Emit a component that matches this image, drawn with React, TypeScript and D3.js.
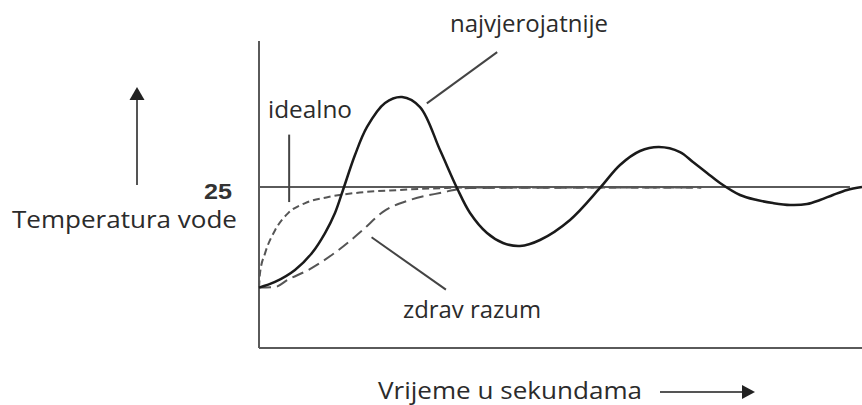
import { useEffect } from 'react';
import * as d3 from 'd3';

// time in seconds / water temperature in degrees
const likelyTime = [0, 1.59, 3.58, 5.27, 6.57, 7.56, 8.36, 9.55, 10.75, 12.54, 14.23, 16.02, 18.01, 19.7, 21.0, 22.69, 24.28, 25.97, 27.96, 30.95, 33.93, 35.92, 37.91, 39.8, 41.89, 43.18, 44.58, 45.87, 47.86, 49.55, 51.14, 52.84, 54.53, 55.82, 57.11, 58.51, 60];
const likelyTemp = [15.0, 15.56, 16.75, 18.44, 20.42, 22.41, 24.7, 28.17, 30.96, 33.34, 33.94, 32.94, 28.67, 24.9, 22.41, 20.42, 19.43, 19.13, 19.73, 21.72, 24.9, 27.18, 28.57, 28.97, 28.47, 27.48, 26.39, 25.39, 24.2, 23.7, 23.4, 23.21, 23.3, 23.7, 24.2, 24.7, 25.0];

const idealTime = [0, 0.1, 0.6, 1.6, 2.9, 4.6, 6.9, 9.6, 14.0, 18.7, 22, 44];
const idealTemp = [15, 16.45, 18.4, 20.7, 22.4, 23.4, 24.0, 24.4, 24.7, 24.9, 24.95, 24.95];

const commonTime = [0, 1.6, 2.9, 4.9, 7.6, 10.3, 12.3, 15.0, 18.0, 21.0, 44];
const commonTemp = [15, 15.06, 15.8, 16.75, 18.5, 20.7, 22.5, 23.7, 24.4, 24.9, 24.95];

const targetTemp = 25;
const targetLabel = '25';

const yTitle = 'Temperatura vode';
const xTitle = 'Vrijeme u sekundama';
const curveLabels = ['najvjerojatnije', 'idealno', 'zdrav razum'];

const W = 862;
const H = 405;
const FONT = '"Open Sans", sans-serif';

const App = () => {
    useEffect(() => {
        document.body.style.margin = '0';
    }, []);

    const x = d3.scaleLinear().domain([0, 60]).range([259, 862]);
    const y = d3.scaleLinear().domain([9, 39.5]).range([348, 41]);

    const smooth = d3.line<[number, number]>()
        .x(d => x(d[0]))
        .y(d => y(d[1]))
        .curve(d3.curveCatmullRom.alpha(0.5));

    const monotone = d3.line<[number, number]>()
        .x(d => x(d[0]))
        .y(d => y(d[1]))
        .curve(d3.curveMonotoneX);

    const zip = (t: number[], v: number[]) => t.map((d, i) => [d, v[i]] as [number, number]);

    const axisColor = '#5a5a5a';
    const textColor = '#2b2b2b';

    return (
        <svg width={W} height={H} style={{ display: 'block', background: '#fff' }}>
            {/* axes */}
            <line x1={x(0)} x2={x(0)} y1={y(39.5)} y2={y(9)} stroke={axisColor} strokeWidth={2} />
            <line x1={x(0)} x2={W} y1={y(9)} y2={y(9)} stroke={axisColor} strokeWidth={2} />

            {/* target temperature */}
            <line x1={x(0)} x2={x(58.8)} y1={y(targetTemp)} y2={y(targetTemp)} stroke={axisColor} strokeWidth={2} />
            <text x={204} y={199} textLength={28} lengthAdjust="spacingAndGlyphs" fontFamily='"Liberation Sans", Arial, sans-serif' fontWeight="bold" fontSize={22} fill="#333">{targetLabel}</text>

            {/* curves */}
            <path d={monotone(zip(commonTime, commonTemp)) ?? ''} fill="none" stroke="#555" strokeWidth={2} strokeDasharray="12 6" />
            <path d={monotone(zip(idealTime, idealTemp)) ?? ''} fill="none" stroke="#555" strokeWidth={2} strokeDasharray="7 4" />
            <path d={smooth(zip(likelyTime, likelyTemp)) ?? ''} fill="none" stroke="#1a1a1a" strokeWidth={2.5} />

            {/* leader lines */}
            <line x1={x(23.7)} y1={y(38.4)} x2={x(16.7)} y2={y(33.3)} stroke="#444" strokeWidth={2} />
            <line x1={x(3.0)} y1={y(30.2)} x2={x(3.0)} y2={y(23.5)} stroke="#444" strokeWidth={2} />
            <line x1={x(11.2)} y1={y(20.0)} x2={x(18.6)} y2={y(14.8)} stroke="#444" strokeWidth={2} />

            {/* curve labels */}
            <text x={450} y={32} textLength={158} lengthAdjust="spacingAndGlyphs" fontFamily={FONT} fontSize={23} fill={textColor}>{curveLabels[0]}</text>
            <text x={268} y={118} textLength={84} lengthAdjust="spacingAndGlyphs" fontFamily={FONT} fontSize={23} fill={textColor}>{curveLabels[1]}</text>
            <text x={403} y={318} textLength={138} lengthAdjust="spacingAndGlyphs" fontFamily={FONT} fontSize={23} fill={textColor}>{curveLabels[2]}</text>

            {/* axis titles with arrows */}
            <text x={12} y={228} textLength={225} lengthAdjust="spacingAndGlyphs" fontFamily={FONT} fontSize={23} fill={textColor}>{yTitle}</text>
            <line x1={137} x2={137} y1={185} y2={99} stroke="#555" strokeWidth={2} />
            <path d="M137,87 L129.5,100 L144.5,100 Z" fill="#222" />
            <text x={378} y={399} textLength={264} lengthAdjust="spacingAndGlyphs" fontFamily={FONT} fontSize={23} fill={textColor}>{xTitle}</text>
            <line x1={660} x2={744} y1={392} y2={392} stroke="#555" strokeWidth={2} />
            <path d="M755,392 L742,385 L742,399 Z" fill="#222" />
        </svg>
    );
};

export default App;
